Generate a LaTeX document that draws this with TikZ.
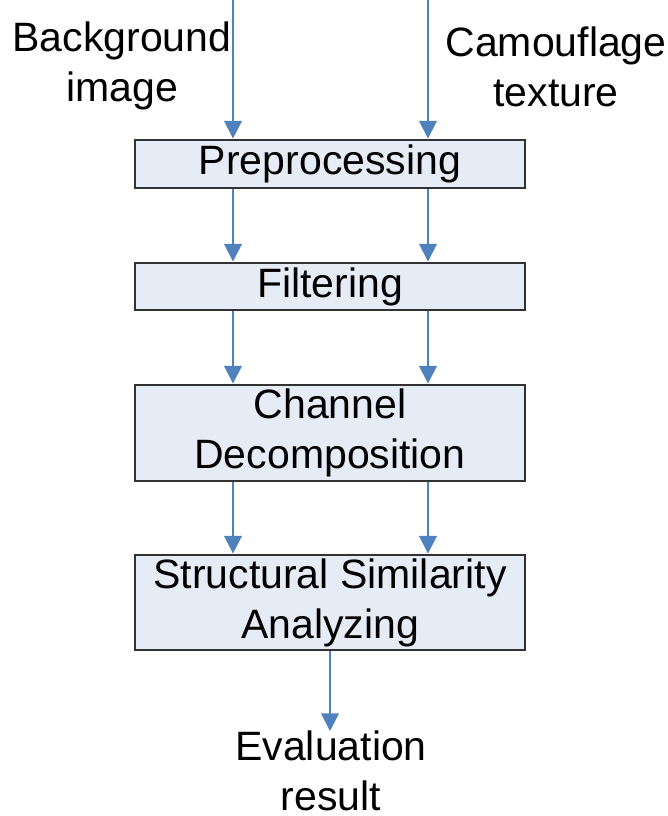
\documentclass[tikz,border=0pt]{standalone}
\usepackage{fontspec}
\setmainfont{Liberation Sans}
\usepackage{tikz}
\usetikzlibrary{arrows.meta,positioning}

\definecolor{flowblue}{RGB}{79,129,189}
\definecolor{boxfill}{RGB}{230,236,246}
\definecolor{boxline}{RGB}{50,50,50}

\begin{document}
\begin{tikzpicture}
		[x=0.03cm,y=-0.03cm,
		font=\fontsize{35}{42.5}\selectfont,
		step box/.style={draw=boxline,fill=boxfill,line width=2.5pt,minimum width=11.7cm,inner sep=0pt,align=center},
		label text/.style={draw=none,fill=none,inner sep=0pt,align=center,anchor=north},
		flow/.style={draw=flowblue,line width=1.6pt,-{Triangle[width=15pt,length=15pt]}}]
		\useasboundingbox (0,0) rectangle (667,816);
		
		\coordinate (bg) at (233,0);
		\coordinate (cam) at (428,0);
		
		\node[label text] (bgtext) at (122,22) {Background\\image};
		\node[label text] (camtext) at (556,27) {Camouflage\\texture};
		
		\node[step box,minimum height=1.44cm] (pre) at (330,164) {Preprocessing};
		\node[step box,minimum height=1.41cm] (filt) at (330,286.5) {Filtering};
		\node[step box,minimum height=2.88cm] (chan) at (330,433) {Channel\\Decomposition};
		\node[step box,minimum height=2.85cm] (ssa) at (330,602.5) {Structural Similarity\\Analyzing};
		
		\node[label text] (eval) at (331,731) {Evaluation\\result};
		
		\draw[flow] (bg) -- (pre.north -| bg);
		\draw[flow] (cam) -- (pre.north -| cam);
		\draw[flow] (pre.south -| bg) -- (filt.north -| bg);
		\draw[flow] (pre.south -| cam) -- (filt.north -| cam);
		\draw[flow] (filt.south -| bg) -- (chan.north -| bg);
		\draw[flow] (filt.south -| cam) -- (chan.north -| cam);
		\draw[flow] (chan.south -| bg) -- (ssa.north -| bg);
		\draw[flow] (chan.south -| cam) -- (ssa.north -| cam);
		\draw[flow] (ssa.south) -- (eval.north -| ssa.south);
		\end{tikzpicture}
\end{document}
